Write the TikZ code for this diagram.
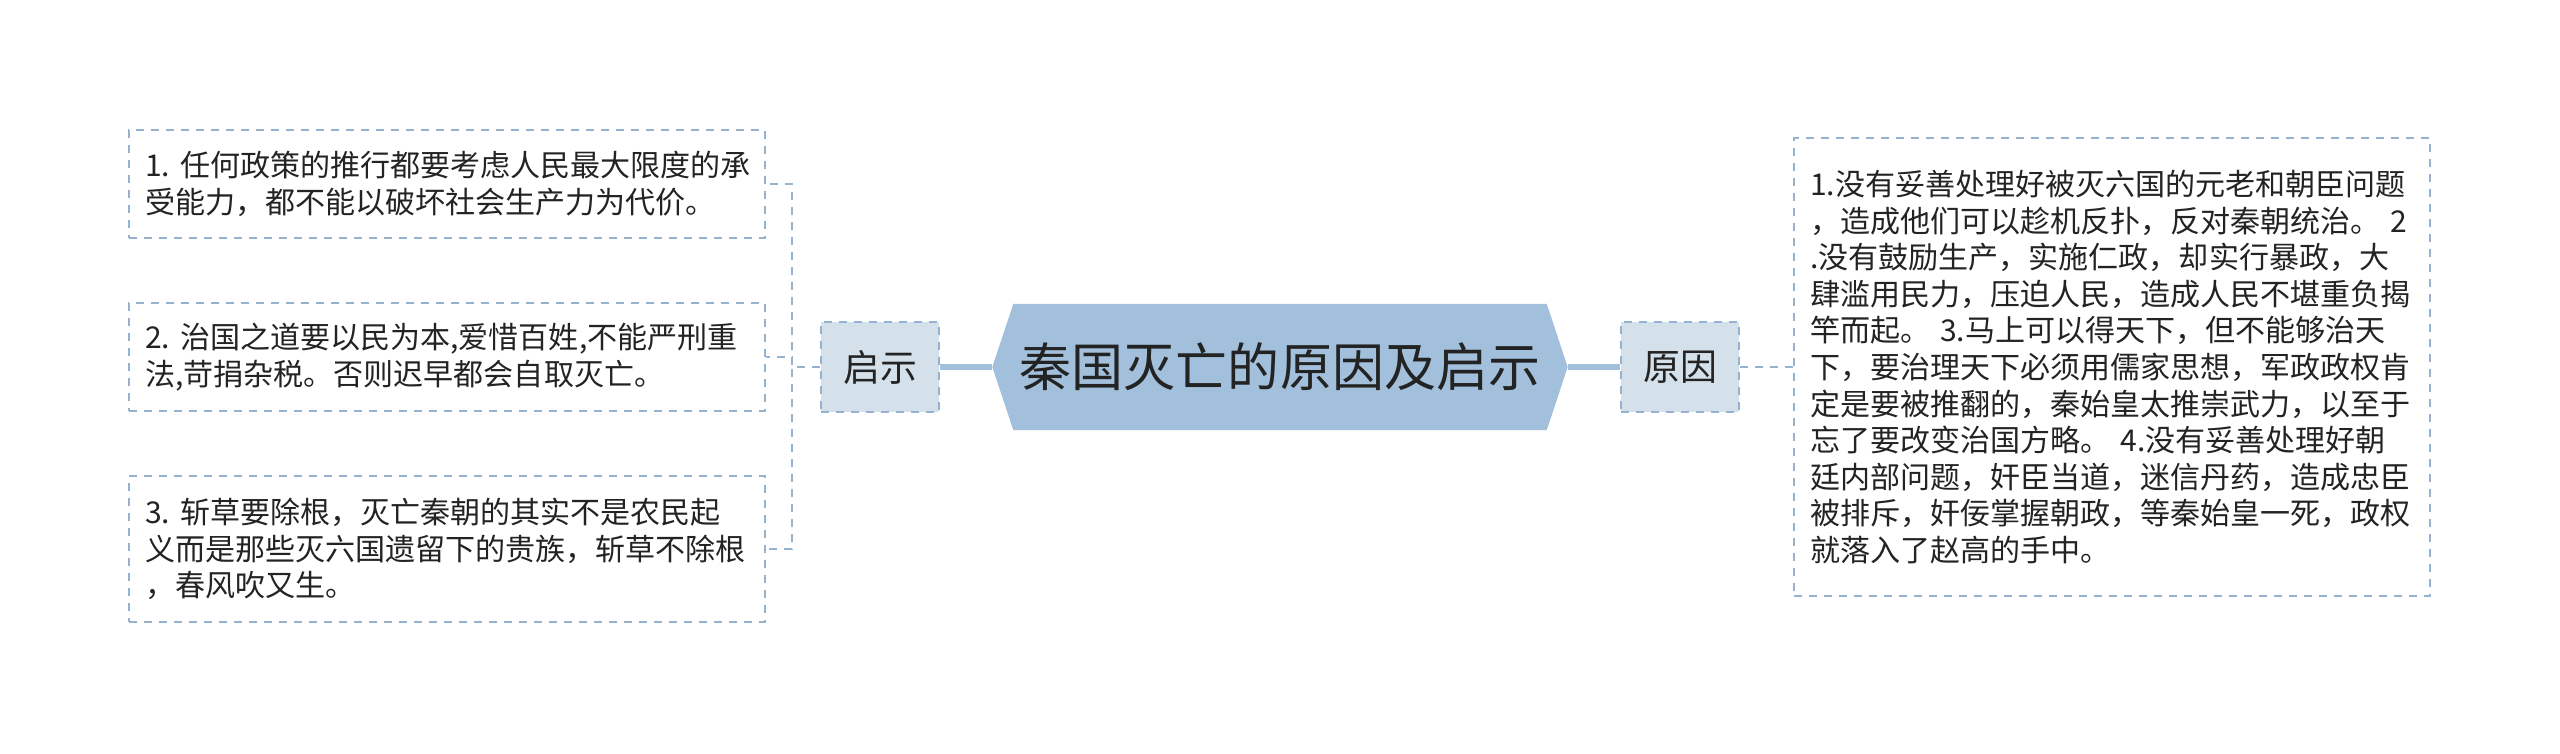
\documentclass[tikz,border=0pt]{standalone}
\usepackage{fontspec}
\setmainfont{Noto Sans CJK SC}
\usetikzlibrary{backgrounds}
\definecolor{linecol}{RGB}{150,178,206}
\definecolor{rootfill}{RGB}{162,191,219}
\definecolor{branchfill}{RGB}{212,224,234}
\definecolor{textcol}{RGB}{35,35,35}

\begin{document}
\begin{tikzpicture}[
    dashline/.style={draw=linecol, line width=0.7pt, dash pattern=on 0.8mm off 0.7mm},
    thickline/.style={draw=rootfill, line width=1.6pt},
    leaf/.style={dashline, text=textcol, font=\fontsize{8.55pt}{10.4pt}\selectfont, text width=6.04cm, align=left, inner xsep=0.16cm, inner ysep=0pt},
    branch/.style={dashline, fill=branchfill, text=textcol, font=\fontsize{10.5pt}{12pt}\selectfont, minimum width=1.18cm, minimum height=0.9cm, inner sep=0pt},
    root/.style={text=textcol, font=\fontsize{14.8pt}{17pt}\selectfont, minimum width=5.74cm, minimum height=1.25cm, inner sep=0pt}
]
    \useasboundingbox (0,0) rectangle (25.6,-7.53);

    % Central topic
    \node[root] (root) at (12.80,-3.67) {秦国灭亡的原因及启示};
    \begin{scope}[on background layer]
        \fill[rootfill] (root.west) -- ([xshift=0.21cm]root.north west) -- ([xshift=-0.21cm]root.north east)
            -- (root.east) -- ([xshift=-0.21cm]root.south east) -- ([xshift=0.21cm]root.south west) -- cycle;
    \end{scope}

    % Branches
    \node[branch] (qishi) at (8.80,-3.67) {启示};
    \node[branch] (yuanyin) at (16.80,-3.67) {原因};

    % Lessons (left)
    \node[leaf, minimum height=1.08cm] (lesson1) at (4.47,-1.84) {1.~任何政策的推行都要考虑人民最大限度的承\\受能力，都不能以破坏社会生产力为代价。};
    \node[leaf, minimum height=1.08cm] (lesson2) at (4.47,-3.57) {2.~治国之道要以民为本,爱惜百姓,不能严刑重\\法,苛捐杂税。否则迟早都会自取灭亡。};
    \node[leaf, minimum height=1.46cm] (lesson3) at (4.47,-5.49) {3.~斩草要除根，灭亡秦朝的其实不是农民起\\义而是那些灭六国遗留下的贵族，斩草不除根\\，春风吹又生。};

    % Reasons (right)
    \node[leaf, minimum height=4.58cm] (reason) at (21.12,-3.67) {1.没有妥善处理好被灭六国的元老和朝臣问题\\，造成他们可以趁机反扑，反对秦朝统治。~2\\.没有鼓励生产，实施仁政，却实行暴政，大\\肆滥用民力，压迫人民，造成人民不堪重负揭\\竿而起。~3.马上可以得天下，但不能够治天\\下，要治理天下必须用儒家思想，军政政权肯\\定是要被推翻的，秦始皇太推崇武力，以至于\\忘了要改变治国方略。~4.没有妥善处理好朝\\廷内部问题，奸臣当道，迷信丹药，造成忠臣\\被排斥，奸佞掌握朝政，等秦始皇一死，政权\\就落入了赵高的手中。};

    % Connectors
    \draw[thickline] (qishi) -- (root);
    \draw[thickline] (root) -- (yuanyin);
    \draw[dashline] (yuanyin) -- (reason);
    \draw[dashline] (qishi.west) -- ++(-0.28,0) |- (lesson1.east);
    \draw[dashline] (qishi.west) -- ++(-0.28,0) |- (lesson2.east);
    \draw[dashline] (qishi.west) -- ++(-0.28,0) |- (lesson3.east);
\end{tikzpicture}
\end{document}
